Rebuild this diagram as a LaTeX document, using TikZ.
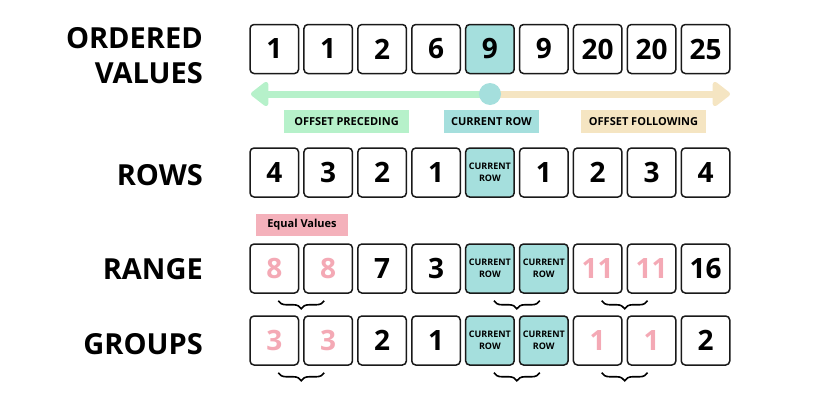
\documentclass[tikz,border=0pt]{standalone}
\usepackage{fontspec}
\setmainfont{Open Sans}
\usetikzlibrary{arrows.meta,decorations.pathreplacing,calc}
\definecolor{mint}{HTML}{B6F1CA}
\definecolor{sand}{HTML}{F5E5C2}
\definecolor{tealc}{HTML}{A5DFDD}
\definecolor{pinkc}{HTML}{F4B1BB}
\definecolor{pinktxt}{HTML}{F4A9B5}
\tikzset{
  cell/.style={draw=black!90, line width=1.5pt, rounded corners=4pt, minimum width=48.5pt, minimum height=49pt, inner sep=0pt, fill=white, font=\fontsize{28}{30}\selectfont\bfseries},
  curcell/.style={cell, fill=tealc, font=\fontsize{9}{12.5}\selectfont\bfseries, align=center},
  eqv/.style={text=pinktxt},
  rowlabel/.style={anchor=base east, inner sep=0pt, font=\fontsize{29}{35}\selectfont\bfseries},
  tag/.style={inner sep=0pt, minimum height=23pt, font=\fontsize{11}{13}\selectfont\bfseries},
  grpbrace/.style={decorate, decoration={brace, mirror, amplitude=8pt}, line width=1.6pt}
}
\newcommand{\cx}[1]{274.3+53.9*#1}
\begin{document}
\begin{tikzpicture}[x=1pt,y=-1pt]
\useasboundingbox (0,0) rectangle (816,407);
% labels
\node[rowlabel] (l1) at (203,48) {ORDERED};
\node[rowlabel] (l2) at (203,83) {VALUES};
\node[rowlabel] (l3) at (203,185) {ROWS};
\node[rowlabel] (l4) at (203,279) {RANGE};
\node[rowlabel] (l5) at (203,354) {GROUPS};
% ordered values
\foreach \v/\i in {1/0,1/1,2/2,6/3,9/5,20/6,20/7,25/8}{
  \node[cell] (v\i) at ({\cx{\i}},49) {\v};
}
\node[cell, fill=tealc] (v4) at ({\cx{4}},49) {9};
% arrow
\coordinate (c0) at (490,94);
\coordinate (ltip) at (251,94);
\coordinate (rtip) at (730,94);
\draw[mint, line width=7pt, -{Triangle[length=19pt,width=28pt,round]}] (c0) -- (ltip);
\draw[sand, line width=7pt, -{Triangle[length=19pt,width=28pt,round]}] (c0) -- (rtip);
\node[circle, fill=tealc, minimum size=22pt, inner sep=0pt] (cur) at (c0) {};
\node[tag, fill=mint, minimum width=125pt] (tp) at (346.5,121.5) {OFFSET PRECEDING};
\node[tag, fill=tealc, minimum width=95pt] (tc) at (491.5,121.5) {CURRENT ROW};
\node[tag, fill=sand, minimum width=125pt] (tf) at (643.5,121.5) {OFFSET FOLLOWING};
% rows
\foreach \v/\i in {4/0,3/1,2/2,1/3,1/5,2/6,3/7,4/8}{
  \node[cell] (w\i) at ({\cx{\i}},172.5) {\v};
}
\node[curcell] (w4) at ({\cx{4}},172.5) {CURRENT\\ROW};
% equal values
\node[tag, fill=pinkc, minimum width=92pt, minimum height=22pt] (eq) at (302,225) {Equal Values};
% range
\node[cell, eqv] (r0) at ({\cx{0}},268.5) {8};
\node[cell, eqv] (r1) at ({\cx{1}},268.5) {8};
\node[cell] (r2) at ({\cx{2}},268.5) {7};
\node[cell] (r3) at ({\cx{3}},268.5) {3};
\node[curcell] (r4) at ({\cx{4}},268.5) {CURRENT\\ROW};
\node[curcell] (r5) at ({\cx{5}},268.5) {CURRENT\\ROW};
\node[cell, eqv] (r6) at ({\cx{6}},268.5) {11};
\node[cell, eqv] (r7) at ({\cx{7}},268.5) {11};
\node[cell] (r8) at ({\cx{8}},268.5) {16};
% groups
\node[cell, eqv] (g0) at ({\cx{0}},340.5) {3};
\node[cell, eqv] (g1) at ({\cx{1}},340.5) {3};
\node[cell] (g2) at ({\cx{2}},340.5) {2};
\node[cell] (g3) at ({\cx{3}},340.5) {1};
\node[curcell] (g4) at ({\cx{4}},340.5) {CURRENT\\ROW};
\node[curcell] (g5) at ({\cx{5}},340.5) {CURRENT\\ROW};
\node[cell, eqv] (g6) at ({\cx{6}},340.5) {1};
\node[cell, eqv] (g7) at ({\cx{7}},340.5) {1};
\node[cell] (g8) at ({\cx{8}},340.5) {2};
% braces
\foreach \a/\b in {0/1,4/5,6/7}{
  \draw[grpbrace] ($(r\a.south)+(4,7)$) -- ($(r\b.south)+(-4,7)$);
  \draw[grpbrace] ($(g\a.south)+(4,7)$) -- ($(g\b.south)+(-4,7)$);
}
\end{tikzpicture}
\end{document}
